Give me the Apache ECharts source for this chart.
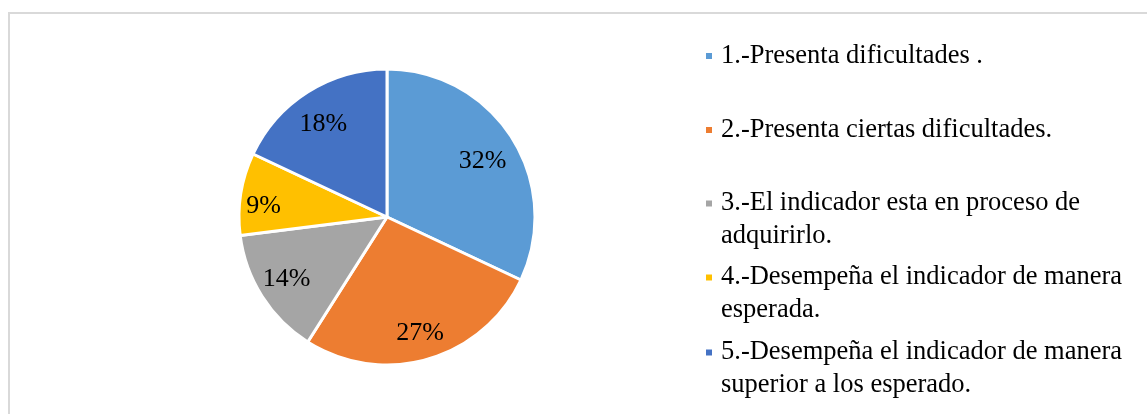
<!DOCTYPE html>
<html>
<head>
<meta charset="utf-8">
<script src="https://cdn.jsdelivr.net/npm/echarts@6/dist/echarts.min.js"></script>
<style>
  html, body { margin: 0; padding: 0; background: #fff; }
  #chart { position: absolute; left: 0; top: 0; width: 1147px; height: 414px; }
  #frame {
    position: absolute; left: 8px; top: 12px; right: 0; bottom: 0;
    border-left: 2px solid #d9d9d9; border-top: 2px solid #d9d9d9;
    pointer-events: none;
  }
</style>
</head>
<body>
<div id="chart"></div>
<div id="frame"></div>
<script>
// categories (legend text, line breaks as in the picture)
const categories = [
  '1.-Presenta dificultades .',
  '2.-Presenta ciertas dificultades.',
  '3.-El indicador esta en proceso de\nadquirirlo.',
  '4.-Desempeña el indicador de manera\nesperada.',
  '5.-Desempeña el indicador de manera\nsuperior a los esperado.'
]
// percentages shown on the slices
const values = [32, 27, 14, 9, 18]
const colors = ['#5b9bd5', '#ed7d31', '#a5a5a5', '#ffc000', '#4472c4']
// small label nudges (Excel "best fit" does not sit exactly on one ring)
const labelNudge = [[-5, 8], [0, 2], [0, -2], [-6, 8], [0, 8]]

const FONT = 'Liberation Serif'
const LH = 33
const legendCenters = [56, 130, 203.5, 277.5, 352.5]

const chart = echarts.init(document.getElementById('chart'))

const pieData = categories.map((name, i) => ({
  name: name,
  value: values[i],
  itemStyle: { color: colors[i] }
}))

// one legend per entry so each can sit where it does in the picture;
// two-line entries get a blank first line so the marker lines up with line one
const legends = categories.map((name, i) => {
  const multi = name.indexOf('\n') >= 0
  return {
    data: [name],
    left: 704,
    top: legendCenters[i] - (multi ? 1.5 : 0.5) * LH,
    orient: 'vertical',
    padding: 0,
    icon: 'rect',
    itemWidth: 8,
    itemHeight: 8,
    selectedMode: false,
    formatter: n => (n.indexOf('\n') >= 0 ? ' \n' + n : n),
    textStyle: {
      fontFamily: FONT,
      fontSize: 26.5,
      lineHeight: LH,
      color: '#000',
      padding: [0, 0, 0, 3]
    }
  }
})

chart.setOption({
  animation: false,
  backgroundColor: '#fff',
  legend: legends,
  series: [
    {
      name: 'pie',
      type: 'pie',
      center: [387, 217],
      radius: 148,
      startAngle: 90,
      clockwise: true,
      data: pieData,
      label: { show: false },
      labelLine: { show: false },
      itemStyle: { borderColor: '#fff', borderWidth: 3 },
      emphasis: { disabled: true }
    },
    {
      // transparent ring only used to place the percentage labels
      name: 'labels',
      type: 'pie',
      center: [387, 217],
      radius: [84, 148],
      startAngle: 90,
      clockwise: true,
      silent: true,
      data: categories.map((name, i) => ({
        name: name,
        value: values[i],
        label: { offset: labelNudge[i] }
      })),
      itemStyle: { color: 'rgba(0,0,0,0)', borderWidth: 0 },
      label: {
        show: true,
        position: 'inside',
        formatter: '{d}%',
        fontFamily: FONT,
        fontSize: 26,
        color: '#000'
      },
      labelLine: { show: false },
      emphasis: { disabled: true }
    }
  ]
})
</script>
</body>
</html>
